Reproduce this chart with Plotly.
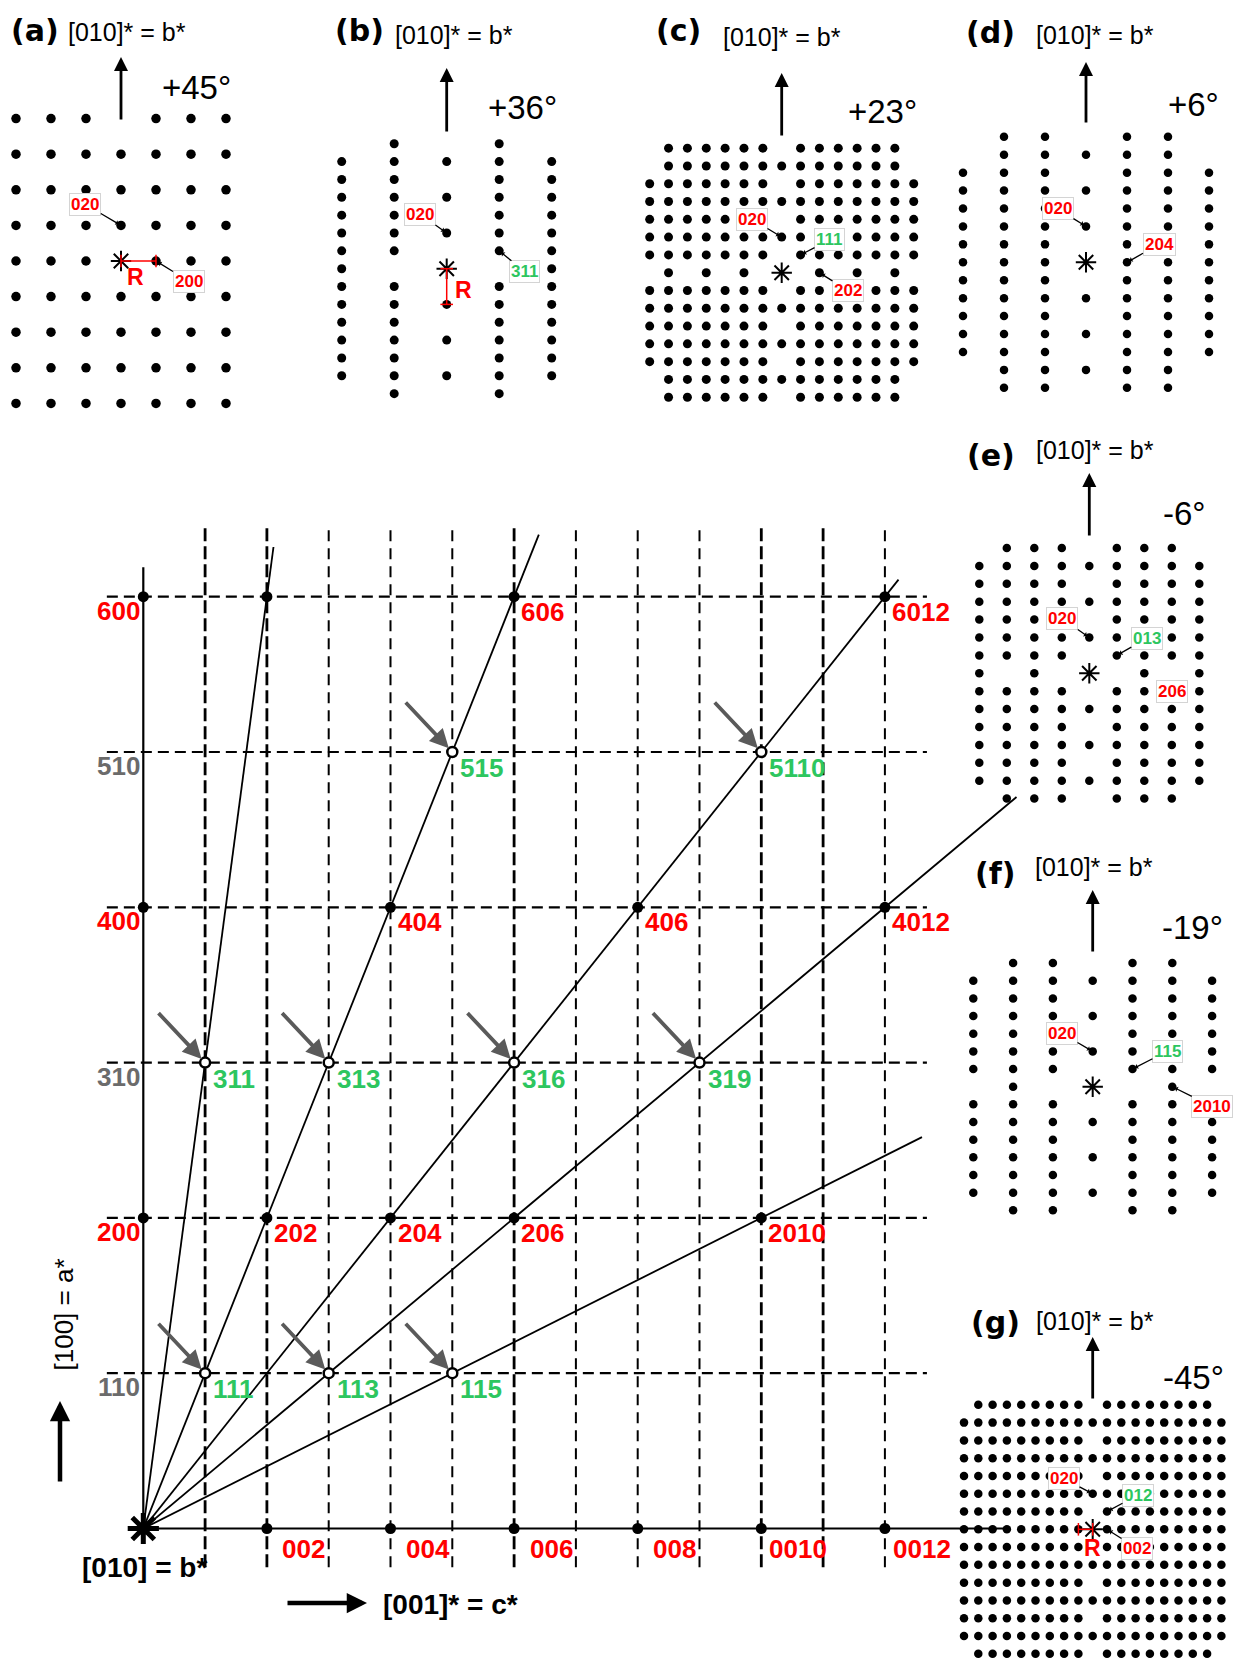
import plotly.graph_objects as go

PAGE_W, PAGE_H = 1248, 1660
BODY = 8                      # default page margin around the plot div
FIG_W, FIG_H = PAGE_W - BODY, PAGE_H - BODY
FONT = "Liberation Sans, Arial, sans-serif"
LETTER_FONT = "DejaVu Sans, sans-serif"
RED = "#ff0000"
GREEN = "#2dc65f"
GRAY = "#6b6b6b"

# ------------------------------------------------------------------
# Main reciprocal-lattice section (k = index along c*, h = index along a*)
# ------------------------------------------------------------------
FILLED_K = [0, 0, 0, 2, 4, 6, 8, 10, 12, 2, 4, 6, 10, 4, 8, 12, 2, 6, 12]
FILLED_H = [2, 4, 6, 0, 0, 0, 0, 0, 0, 2, 2, 2, 2, 4, 4, 4, 6, 6, 6]

RED_TEXT = ["202", "204", "206", "2010", "404", "406", "4012", "606", "6012"]
RED_K = [2, 4, 6, 10, 4, 8, 12, 6, 12]
RED_H = [2, 2, 2, 2, 4, 4, 4, 6, 6]

GREEN_TEXT = ["111", "113", "115", "311", "313", "316", "319", "515", "5110"]
GREEN_K = [1, 3, 5, 1, 3, 6, 9, 5, 10]
GREEN_H = [1, 1, 1, 3, 3, 3, 3, 5, 5]

ROW_H = [1, 2, 3, 4, 5, 6]
ROW_TEXT = ["110", "200", "310", "400", "510", "600"]
ROW_IS_EVEN = [False, True, False, True, False, True]

COL_K = [2, 4, 6, 8, 10, 12]
COL_TEXT = ["002", "004", "006", "008", "0010", "0012"]

GRID_K = [1, 2, 3, 4, 5, 6, 7, 8, 9, 10, 11, 12]
GRID_K_HEAVY = [1, 2, 6, 10, 11]
GRID_H = [1, 2, 3, 4, 5, 6]

RAY_K_PER_H = [1 / 3, 1, 2, 3, 5]
RAY_END_H = [6.32, 6.40, 6.11, 4.71, 2.52]

# ------------------------------------------------------------------
# Projection panels: dot maps ('#' dot, '*' origin)
# ------------------------------------------------------------------
MAP_A = ["###.###", "#######", "#######", "#######", "###*###",
         "#######", "#######", "#######", "#######"]
MAP_B = [".#.#.", "#####", "##.##", "#####", "##.##", "#####", "##.##", "#.*.#",
         "##.##", "#####", "##.##", "#####", "##.##", "#####", ".#.#."]
MAP_C = [".######.######.", ".#############.", "#######.#######", "###############",
         "#######.#######", "###############", "#######.#######", ".#.#.#.*.#.#.#.",
         "#######.#######", "###############", "#######.#######", "###############",
         "#######.#######", ".#############.", ".######.######."]
MAP_D = [".##.##.", ".#####.", "###.###", "#######", "###.###", "#######", "###.###",
         "###*###", "###.###", "#######", "###.###", "#######", "###.###", ".#####.",
         ".##.##."]
MAP_E = [".###.###.", "#########", "####.####", "#########", "####.####", "#########",
         "####.####", "#.#.*.#.#", "####.####", "#########", "####.####", "#########",
         "####.####", "#########", ".###.###."]
MAP_F = [".##.##.", "#######", "###.###", "#######", "###.###", "#######", "###.###",
         ".#.*.#.", "###.###", "#######", "###.###", "#######", "###.###", "#######",
         ".##.##."]
MAP_G = [".########.########.", "###################", "#########.#########",
         "###################", "#########.#########", "###################",
         "#########.#########", "#########*#########", "#########.#########",
         "###################", "#########.#########", "###################",
         "#########.#########", "###################", ".########.########."]

PANEL_LETTERS = ["(a)", "(b)", "(c)", "(d)", "(e)", "(f)", "(g)"]
PANEL_ANGLES = ["+45°", "+36°", "+23°", "+6°", "-6°", "-19°", "-45°"]
PANEL_HEADER = "[010]* = b*"

TAGS_A = [("020", 0, 1, "red"), ("200", 1, 0, "red")]
TAGS_B = [("020", 0, 2, "red"), ("311", 1, 1, "green")]
TAGS_C = [("020", 0, 2, "red"), ("111", 1, 1, "green"), ("202", 2, 0, "red")]
TAGS_D = [("020", 0, 2, "red"), ("204", 1, 0, "red")]
TAGS_E = [("020", 0, 2, "red"), ("013", 1, 1, "green"), ("206", 3, -1, "red")]
TAGS_F = [("020", 0, 2, "red"), ("115", 1, 1, "green"), ("2010", 2, 0, "red")]
TAGS_G = [("020", 0, 2, "red"), ("012", 1, 1, "green"), ("002", 1, 0, "red")]

R_SEG_A = ([0, 1], [0, 0])
R_SEG_B = ([0, 0], [0, -2])
R_SEG_G = ([-1, 0], [0, 0])

# ------------------------------------------------------------------
# Layout geometry (pixels on the 1248 x 1660 page)
# ------------------------------------------------------------------
MAIN_ORIGIN = (143.3, 1528.5)
MAIN_STEP = (61.8, 155.3)

PANEL_GEOM = [
    dict(center=(121.0, 261.0), step=(35.0, 35.6), dot=9.5, letter=(34.5, 31),
         header=(127, 32), arrow=(121.0, 121, 57), angle=(197, 88),
         offs=[(-35.7, -21), (32.5, 20)]),
    dict(center=(446.7, 268.7), step=(52.5, 17.85), dot=9, letter=(359, 31),
         header=(454, 35), arrow=(446.7, 133, 68), angle=(522, 108),
         offs=[(-26.7, -19), (25.7, 21)]),
    dict(center=(781.7, 272.7), step=(18.86, 17.79), dot=9, letter=(678, 30),
         header=(782, 37), arrow=(781.7, 137, 73), angle=(882, 112),
         offs=[(-29.7, -18), (29, -15), (28.5, 18)]),
    dict(center=(1086.0, 262.3), step=(41.0, 17.93), dot=8.5, letter=(990, 33),
         header=(1095, 35), arrow=(1086.0, 124, 62), angle=(1193, 104),
         offs=[(-28, -17.5), (32, -18)]),
    dict(center=(1089.3, 673.3), step=(27.5, 17.9), dot=8.5, letter=(991, 455),
         header=(1095, 450), arrow=(1089.3, 537, 473), angle=(1184, 514),
         offs=[(-27, -19), (30, -17), None]),
    dict(center=(1092.7, 1086.7), step=(39.8, 17.66), dot=8.5, letter=(995, 873),
         header=(1094, 867), arrow=(1092.7, 953, 890), angle=(1192, 927),
         offs=[(-30.7, -18), (35, -18), (40, 20)]),
    dict(center=(1092.7, 1529.3), step=(14.3, 17.78), dot=8.5, letter=(995, 1322),
         header=(1095, 1321), arrow=(1092.7, 1400, 1337), angle=(1193, 1377),
         offs=[(-28.7, -15), (31, -16.5), (30, 19)]),
]
R_TEXT_POS = [(135, 277), (463, 290), (1092, 1548)]

MAPS = [MAP_A, MAP_B, MAP_C, MAP_D, MAP_E, MAP_F, MAP_G]
TAGS = [TAGS_A, TAGS_B, TAGS_C, TAGS_D, TAGS_E, TAGS_F, TAGS_G]
R_SEGS = [(0, R_SEG_A, "h"), (1, R_SEG_B, "v"), (6, R_SEG_G, "h")]
COLOR = {"red": RED, "green": GREEN}


def xr(c, s):
    return [(BODY - c) / s, (PAGE_W - c) / s]


def yr(c, s):
    return [(c - PAGE_H) / s, (c - BODY) / s]


def PX(px):
    return (px - BODY) / FIG_W


def PY(py):
    return 1 - (py - BODY) / FIG_H


def parse_map(rows):
    xs, ys = [], []
    cx = len(rows[0]) // 2
    top = len(rows) // 2
    for i, row in enumerate(rows):
        for j, ch in enumerate(row):
            if ch == "#":
                xs.append(j - cx)
                ys.append(top - i)
    return xs, ys


def txt(px, py, s, size, color="black", family=FONT, angle=0, xanchor="center"):
    return dict(xref="paper", yref="paper", x=PX(px), y=PY(py), text=s,
                showarrow=False, xanchor=xanchor, yanchor="middle", textangle=angle,
                font=dict(size=size, color=color, family=family))


def arr(tx, ty, hx, hy, width, color="black", head=2, size=1.0):
    return dict(xref="paper", yref="paper", x=PX(hx), y=PY(hy),
                ax=tx - hx, ay=ty - hy, axref="pixel", ayref="pixel", text="",
                showarrow=True, arrowhead=head, arrowsize=size, arrowwidth=width,
                arrowcolor=color)


fig = go.Figure()
anns = []
axes = {}

# ---------------- main section ----------------
axes["xaxis"] = dict(domain=[0, 1], range=xr(MAIN_ORIGIN[0], MAIN_STEP[0]),
                     visible=False, fixedrange=True)
axes["yaxis"] = dict(domain=[0, 1], range=yr(MAIN_ORIGIN[1], MAIN_STEP[1]),
                     visible=False, fixedrange=True)

V_SPAN = (-0.25, 6.45)
H_SPAN = (-0.59, 12.68)


def seg_trace(xs, ys, width, dash=None, color="black", xa="x", ya="y"):
    return go.Scatter(x=xs, y=ys, mode="lines", xaxis=xa, yaxis=ya, hoverinfo="skip",
                      line=dict(color=color, width=width, dash=dash))


for heavy in (False, True):
    xs, ys = [], []
    for k in GRID_K:
        if (k in GRID_K_HEAVY) == heavy:
            xs += [k, k, None]
            ys += [V_SPAN[0], V_SPAN[1], None]
    fig.add_trace(seg_trace(xs, ys, 2.8 if heavy else 2.0,
                            "13px,5px" if heavy else "11px,7px"))

xs, ys = [], []
for h in GRID_H:
    xs += [H_SPAN[0], H_SPAN[1], None]
    ys += [h, h, None]
fig.add_trace(seg_trace(xs, ys, 2.2, "11px,6px"))

# solid axes
fig.add_trace(seg_trace([0, 0, None, 0, 13.98], [0, 6.19, None, 0, 0], 2.2))

# rays from origin
xs, ys = [], []
for r, he in zip(RAY_K_PER_H, RAY_END_H):
    xs += [0, r * he, None]
    ys += [0, he, None]
fig.add_trace(seg_trace(xs, ys, 1.8))

fig.add_trace(go.Scatter(x=FILLED_K, y=FILLED_H, mode="markers", hoverinfo="skip",
                         marker=dict(size=11, color="black")))
fig.add_trace(go.Scatter(x=GREEN_K, y=GREEN_H, mode="markers", hoverinfo="skip",
                         marker=dict(size=10, color="white",
                                     line=dict(color="black", width=2.5))))
fig.add_trace(go.Scatter(x=[0], y=[0], mode="markers", hoverinfo="skip",
                         marker=dict(symbol="asterisk-open", size=26, color="black",
                                     line=dict(color="black", width=5))))

for t, k, h in zip(RED_TEXT, RED_K, RED_H):
    anns.append(dict(xref="x", yref="y", x=k, y=h, text=f"<b>{t}</b>", showarrow=False,
                     xanchor="left", yanchor="middle", xshift=5, yshift=-15,
                     font=dict(size=26, color=RED, family=FONT)))
for t, k, h in zip(GREEN_TEXT, GREEN_K, GREEN_H):
    anns.append(dict(xref="x", yref="y", x=k, y=h, text=f"<b>{t}</b>", showarrow=False,
                     xanchor="left", yanchor="middle", xshift=6, yshift=-16,
                     font=dict(size=26, color=GREEN, family=FONT)))
    anns.append(dict(xref="x", yref="y", x=k, y=h, text="", showarrow=True,
                     ax=-48, ay=-51, axref="pixel", ayref="pixel", arrowhead=2,
                     arrowsize=1.0, arrowwidth=3.8, arrowcolor="#5a5a5a", standoff=5))
for t, h, ev in zip(ROW_TEXT, ROW_H, ROW_IS_EVEN):
    anns.append(dict(xref="x", yref="y", x=0, y=h, text=f"<b>{t}</b>", showarrow=False,
                     xanchor="right", yanchor="middle", xshift=-1, yshift=-14,
                     font=dict(size=26, color=RED if ev else GRAY, family=FONT)))
for t, k in zip(COL_TEXT, COL_K):
    anns.append(dict(xref="x", yref="y", x=k, y=0, text=f"<b>{t}</b>", showarrow=False,
                     xanchor="center", yanchor="middle", xshift=37, yshift=-20,
                     font=dict(size=26, color=RED, family=FONT)))

anns.append(txt(144, 1567, "<b>[010] = b*</b>", 28))
anns.append(txt(450, 1604, "<b>[001]* = c*</b>", 28))
anns.append(txt(63.5, 1315, "[100] = a*", 26, angle=-90))
anns.append(arr(286, 1603, 367, 1603, 4.5, head=2, size=0.9))
anns.append(arr(60, 1483, 60, 1401, 4.5, head=2, size=0.9))

# ---------------- projection panels ----------------
for i, (geom, dmap, tags) in enumerate(zip(PANEL_GEOM, MAPS, TAGS)):
    n = i + 2
    xa, ya = f"x{n}", f"y{n}"
    cx, cy = geom["center"]
    sx, sy = geom["step"]
    axes[f"xaxis{n}"] = dict(domain=[0, 1], range=xr(cx, sx), visible=False,
                             fixedrange=True, anchor=ya)
    axes[f"yaxis{n}"] = dict(domain=[0, 1], range=yr(cy, sy), visible=False,
                             fixedrange=True, anchor=xa)
    dx, dy = parse_map(dmap)
    fig.add_trace(go.Scatter(x=dx, y=dy, mode="markers", xaxis=xa, yaxis=ya,
                             hoverinfo="skip",
                             marker=dict(size=geom["dot"], color="black")))
    fig.add_trace(go.Scatter(x=[0], y=[0], mode="markers", xaxis=xa, yaxis=ya,
                             hoverinfo="skip",
                             marker=dict(symbol="asterisk-open", size=17, color="black",
                                         line=dict(color="black", width=2))))
    for (t, x, y, c), off in zip(tags, geom["offs"]):
        a = dict(xref=xa, yref=ya, x=x, y=y, text=f"<b>{t}</b>",
                 font=dict(size=17, color=COLOR[c], family=FONT),
                 bgcolor="white", bordercolor="#d4d4d4", borderwidth=1, borderpad=1)
        if off is None:
            a.update(showarrow=False, xanchor="center", yanchor="middle")
        else:
            a.update(showarrow=True, ax=off[0], ay=off[1], axref="pixel", ayref="pixel",
                     arrowhead=1, arrowsize=0.7, arrowwidth=1.3, arrowcolor="black",
                     standoff=3)
        anns.append(a)
    lx, ly = geom["letter"]
    anns.append(txt(lx, ly, f"<b>{PANEL_LETTERS[i]}</b>", 30, family=LETTER_FONT))
    hx, hy = geom["header"]
    anns.append(txt(hx, hy, PANEL_HEADER, 25))
    ax_, at, ah = geom["arrow"]
    anns.append(arr(ax_, at, ax_, ah, 2.8, head=2, size=1.0))
    gx, gy = geom["angle"]
    anns.append(txt(gx, gy, PANEL_ANGLES[i], 33))

for (pi, (sxs, sys_), orient), (rx, ry) in zip(R_SEGS, R_TEXT_POS):
    n = pi + 2
    fig.add_trace(go.Scatter(x=sxs, y=sys_, mode="lines+markers", xaxis=f"x{n}",
                             yaxis=f"y{n}", hoverinfo="skip",
                             line=dict(color=RED, width=1.5),
                             marker=dict(symbol="line-ns" if orient == "h" else "line-ew",
                                         size=9, color=RED,
                                         line=dict(color=RED, width=1.5))))
    anns.append(txt(rx, ry, "<b>R</b>", 23, color=RED))

fig.update_layout(width=FIG_W, height=FIG_H, margin=dict(l=0, r=0, t=0, b=0),
                  paper_bgcolor="white", plot_bgcolor="rgba(0,0,0,0)",
                  showlegend=False, annotations=anns, **axes)

fig.write_html("out.html")
